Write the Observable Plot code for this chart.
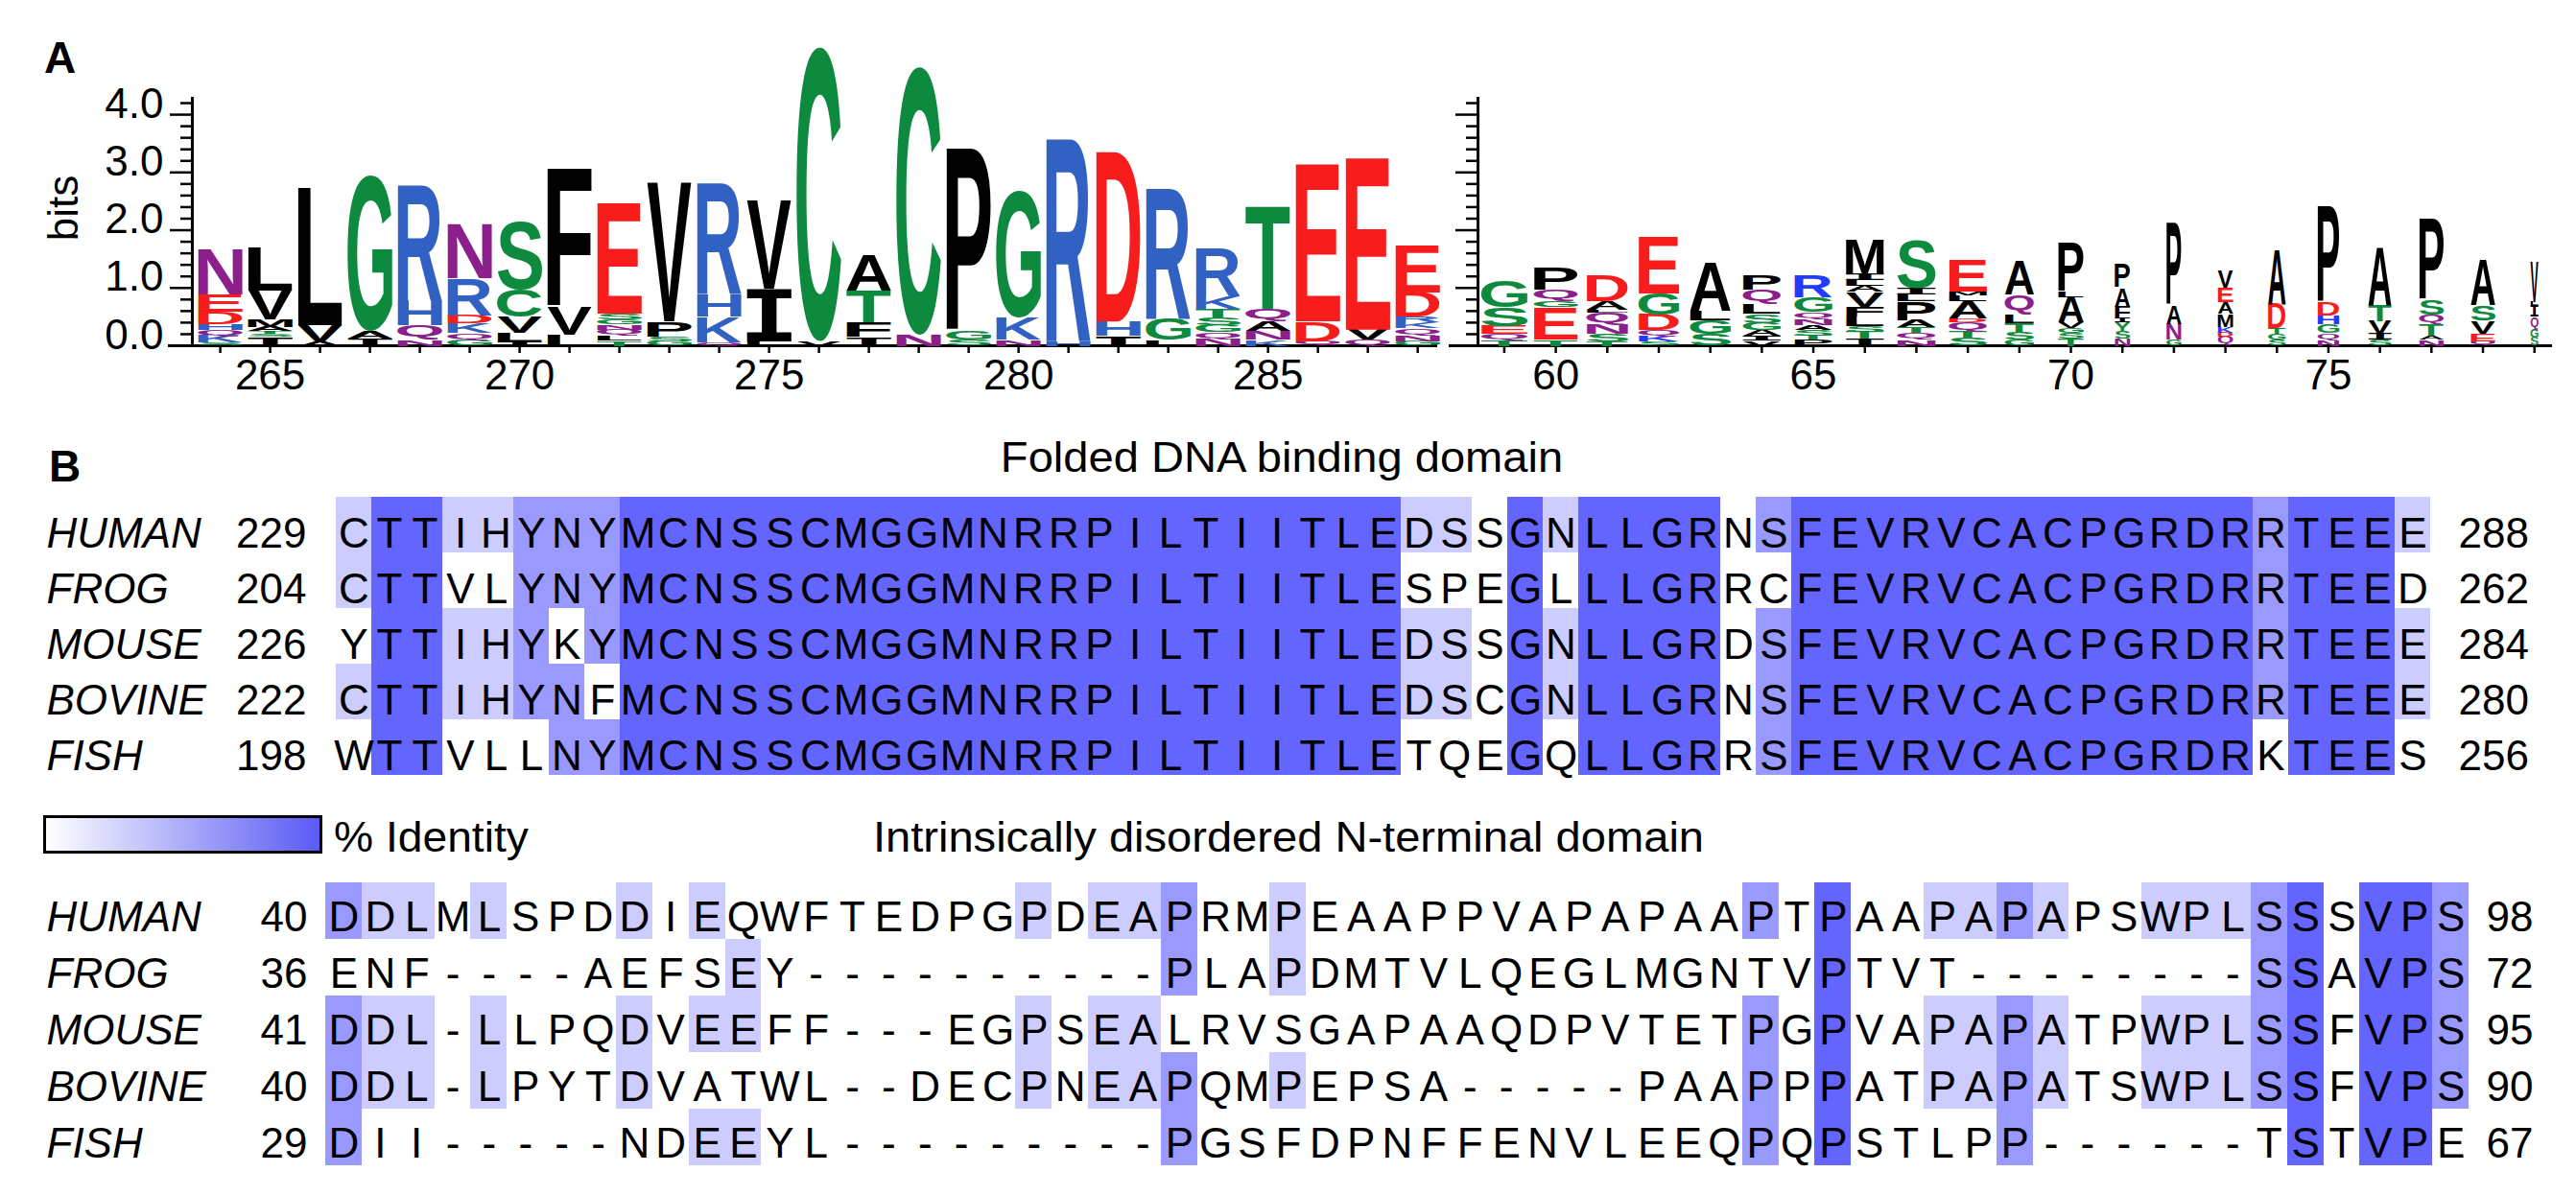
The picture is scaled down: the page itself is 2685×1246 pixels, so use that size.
<!DOCTYPE html>
<html>
<head>
<meta charset="utf-8">
<script src="https://cdn.jsdelivr.net/npm/d3@7"></script>
<script src="https://cdn.jsdelivr.net/npm/@observablehq/plot@0.6"></script>
<style>
html, body { margin: 0; padding: 0; background: #fff; }
#page { position: relative; width: 2685px; height: 1246px; overflow: hidden; background: #fff;
  font-family: "Liberation Sans", Arial, Helvetica, sans-serif; color: #000; }
.abs { position: absolute; white-space: nowrap; }
.holder { position: absolute; }
</style>
</head>
<body>
<div id="page"></div>
<script>
// ---------------- DATA ----------------
// Panel A, left logo (DNA binding domain), stacks bottom -> top: [residue, bits]
const leftPositions = [264,265,266,267,268,269,270,271,272,273,274,275,276,277,278,279,280,281,282,283,284,285,286,287,288];
const leftStacks = [
  [["S",.05],["K",.12],["Q",.1],["H",.1],["D",.22],["E",.3],["N",.8]],
  [["I",.15],["S",.05],["T",.05],["A",.08],["M",.12],["V",.5],["L",.75]],
  [["A",.08],["V",.28],["L",2.39]],
  [["I",.12],["A",.13],["G",2.69]],
  [["N",.11],["Q",.25],["H",.42],["R",2.0]],
  [["G",.1],["Q",.12],["K",.17],["D",.14],["R",.64],["N",.94]],
  [["I",.08],["L",.15],["V",.27],["C",.47],["S",1.17]],
  [["L",.19],["V",.48],["F",2.39]],
  [["T",.09],["L",.09],["Q",.1],["N",.09],["G",.09],["S",.1],["E",1.92]],
  [["G",.08],["S",.08],["P",.26],["V",2.41]],
  [["Q",.06],["K",.44],["H",.39],["R",1.92]],
  [["L",.08],["I",.9],["V",1.52]],
  [["V",.08],["C",5.09]],
  [["I",.15],["F",.25],["T",.55],["A",.63]],
  [["N",.19],["C",4.64]],
  [["S",.1],["G",.15],["P",3.17]],
  [["N",.11],["K",.39],["G",2.19]],
  [["H",.08],["R",3.5]],
  [["I",.17],["H",.25],["D",2.94]],
  [["L",.11],["G",.36],["R",2.25]],
  [["N",.12],["Q",.12],["G",.12],["S",.13],["T",.15],["K",.22],["R",.83]],
  [["K",.1],["N",.15],["A",.17],["Q",.22],["T",1.78]],
  [["Q",.08],["D",.34],["E",2.72]],
  [["Q",.1],["V",.18],["E",2.97]],
  [["G",.08],["N",.1],["Q",.12],["K",.1],["R",.1],["D",.42],["E",.8]]
];
const leftTickLabels = [265,270,275,280,285];

// Panel A, right logo (N-terminal domain)
const rightPositions = [59,60,61,62,63,64,65,66,67,68,69,70,71,72,73,74,75,76,77,78,79];
const rightWidths = [1.0,0.95,0.9,0.88,0.88,0.82,0.82,0.82,0.83,0.82,0.63,0.55,0.33,0.32,0.33,0.38,0.47,0.5,0.53,0.53,0.17];
const rightStacks = [
  [["T",.1],["Q",.1],["E",.14],["S",.33],["G",.46]],
  [["T",.11],["E",.56],["G",.1],["Q",.2],["P",.38]],
  [["T",.08],["S",.12],["N",.16],["Q",.22],["L",.05],["A",.14],["D",.45]],
  [["S",.07],["K",.1],["Q",.1],["D",.27],["G",.36],["E",.98]],
  [["S",.2],["G",.24],["L",.17],["A",.85]],
  [["V",.09],["I",.08],["A",.1],["G",.12],["S",.16],["L",.17],["Q",.25],["P",.25]],
  [["P",.1],["T",.08],["S",.1],["A",.08],["N",.1],["Q",.12],["G",.26],["R",.38]],
  [["I",.12],["T",.12],["S",.1],["L",.16],["F",.18],["V",.26],["A",.1],["L",.1],["I",.1],["M",.61]],
  [["N",.11],["Q",.11],["T",.1],["A",.12],["P",.33],["L",.12],["I",.1],["S",.83]],
  [["S",.12],["T",.12],["Q",.17],["D",.06],["A",.3],["L",.1],["M",.07],["E",.55]],
  [["G",.1],["S",.12],["T",.17],["L",.15],["Q",.34],["A",.58]],
  [["T",.12],["S",.1],["G",.08],["V",.1],["A",.44],["L",.1],["P",.83]],
  [["N",.12],["S",.12],["Y",.16],["I",.08],["F",.2],["A",.33],["P",.4]],
  [["G",.1],["N",.28],["A",.32],["P",1.42]],
  [["Q",.15],["D",.08],["K",.1],["M",.22],["A",.2],["E",.25],["V",.3]],
  [["S",.1],["G",.1],["T",.1],["D",.42],["A",.94]],
  [["N",.1],["Q",.12],["G",.15],["H",.15],["D",.23],["P",1.66]],
  [["S",.1],["I",.1],["V",.23],["T",.27],["A",1.02]],
  [["N",.1],["A",.07],["T",.2],["Q",.16],["S",.27],["P",1.39]],
  [["Q",.08],["E",.13],["V",.22],["S",.27],["A",.79]],
  [["S",.14],["G",.14],["Q",.22],["I",.2],["L",.06],["V",.7]]
];
const rightTickLabels = [60,65,70,75];

const yMajorTicks = [0,1,2,3,4];
const yMinorTicks = [0.2,0.4,0.6,0.8,1.2,1.4,1.6,1.8,2.2,2.4,2.6,2.8,3.2,3.4,3.6,3.8,4.2];

// Panel B alignments
const species = ["HUMAN","FROG","MOUSE","BOVINE","FISH"];
const foldedStart = [229,204,226,222,198];
const foldedEnd = [288,262,284,280,256];
const foldedSeqs = [
  "CTTIHYNYMCNSSCMGGMNRRPILTIITLEDSSGNLLGRNSFEVRVCACPGRDRRTEEE",
  "CTTVLYNYMCNSSCMGGMNRRPILTIITLESPEGLLLGRRCFEVRVCACPGRDRRTEED",
  "YTTIHYKYMCNSSCMGGMNRRPILTIITLEDSSGNLLGRDSFEVRVCACPGRDRRTEEE",
  "CTTIHYNFMCNSSCMGGMNRRPILTIITLEDSCGNLLGRNSFEVRVCACPGRDRRTEEE",
  "WTTVLLNYMCNSSCMGGMNRRPILTIITLETQEGQLLGRRSFEVRVCACPGRDRKTEES"
];
const disorderedStart = [40,36,41,40,29];
const disorderedEnd = [98,72,95,90,67];
const disorderedSeqs = [
  "DDLMLSPDDIEQWFTEDPGPDEAPRMPEAAPPVAPAPAAPTPAAPAPAPSWPLSSSVPS",
  "ENF----AEFSEY----------PLAPDMTVLQEGLMGNTVPTVT--------SSAVPS",
  "DDL-LLPQDVEEFF---EGPSEALRVSGAPAAQDPVTETPGPVAPAPATPWPLSSFVPS",
  "DDL-LPYTDVATWL--DECPNEAPQMPEPSA-----PAAPPPATPAPATSWPLSSFVPS",
  "DII-----NDEEYL---------PGSFDPNFFENVLEEQPQPSTLPP------TSTVPE"
];

// ---------------- STYLE ----------------
const FONT = "'Liberation Sans', Arial, Helvetica, sans-serif";
const aaGroup = {G:"polar",S:"polar",T:"polar",Y:"polar",C:"polar",N:"neutral",Q:"neutral",
  K:"basic",R:"basic",H:"basic",D:"acidic",E:"acidic"};
const leftColors = {polar:"#0e8a3e", neutral:"#8d1f8d", basic:"#3261c4", acidic:"#f81c1c", hydrophobic:"#000000"};
const rightColors = {polar:"#0e8a3e", neutral:"#8d1f8d", basic:"#1f3cff", acidic:"#f81c1c", hydrophobic:"#000000"};
const levelColors = {3:"#6464ff", 2:"#9999ff", 1:"#ccccff"};

const page = document.getElementById("page");

function addText(txt, x, baseline, opt = {}) {
  const size = opt.size || 44;
  const el = document.createElement("div");
  el.className = "abs";
  el.textContent = txt;
  el.style.fontSize = size + "px";
  el.style.lineHeight = size + "px";
  el.style.fontWeight = opt.weight || "normal";
  el.style.fontStyle = opt.style || "normal";
  el.style.top = (baseline - 0.8465 * size) + "px";
  el.style.left = x + "px";
  const sx = opt.stretch || 1;
  if (opt.align === "center") el.style.transform = `translateX(-50%) scaleX(${sx})`;
  else if (sx !== 1) { el.style.transformOrigin = "0 0"; el.style.transform = `scaleX(${sx})`; }
  page.appendChild(el);
  return el;
}

function place(node, left, top) {
  const h = document.createElement("div");
  h.className = "holder";
  h.style.left = left + "px";
  h.style.top = top + "px";
  h.appendChild(node);
  page.appendChild(h);
}

function dropEmptyTexts(chart) {
  chart.querySelectorAll("text").forEach(t => { if (t.textContent === "") t.remove(); });
}

// glyph ink measurement
const ctx = document.createElement("canvas").getContext("2d");
const inkCache = {};
function ink(ch, fam) {
  const key = ch + "|" + fam;
  if (inkCache[key]) return inkCache[key];
  ctx.font = "bold 100px " + fam;
  const m = ctx.measureText(ch);
  const r = {l: -m.actualBoundingBoxLeft, r: m.actualBoundingBoxRight, t: -m.actualBoundingBoxAscent, b: m.actualBoundingBoxDescent};
  inkCache[key] = r;
  return r;
}

// ---------------- LOGO ----------------
function logo(cfg) {
  const letters = [];
  cfg.positions.forEach((p, i) => {
    let y0 = 0;
    for (const [aa, b] of cfg.stacks[i]) {
      letters.push({pos: p, aa, y0, y1: y0 + b, w: cfg.widths ? cfg.widths[i] : 1});
      y0 += b;
    }
  });
  const marks = [
    Plot.axisY({ticks: yMinorTicks, tickSize: 12, tickFormat: () => "", strokeWidth: 2.5, label: null}),
    Plot.axisY({ticks: yMajorTicks, tickSize: 23, tickFormat: () => "", strokeWidth: 2.5, label: null}),
    cfg.yLabels ? Plot.axisY({ticks: yMajorTicks, tickSize: 0, tickPadding: 30, tickFormat: d3.format(".1f"), dy: -11, fontSize: 44, label: null}) : null,
    Plot.axisX({ticks: cfg.positions, tickSize: 8, tickFormat: () => "", strokeWidth: 2.5, label: null}),
    Plot.axisX({ticks: cfg.tickLabels, tickSize: 0, tickPadding: 14, fontSize: 44, label: null}),
    Plot.ruleY([0], {x1: cfg.xDomain[0], x2: cfg.xDomain[1], strokeWidth: 3}),
    Plot.ruleX([cfg.yAxisAt], {y1: 0, y2: 4.3, strokeWidth: 3}),
    Plot.text(letters, {x: "pos", y: d => (d.y0 + d.y1) / 2, text: "aa",
      fill: d => cfg.colors[aaGroup[d.aa] || "hydrophobic"], fontSize: 100, fontWeight: "bold", fontFamily: FONT})
  ].filter(Boolean);
  const chart = Plot.plot({
    width: cfg.width, height: 430,
    marginLeft: cfg.marginLeft, marginRight: 10, marginTop: 20, marginBottom: 70,
    style: {background: "transparent", fontFamily: FONT, fontSize: "44px", color: "#000", overflow: "visible"},
    x: {domain: cfg.xDomain, range: cfg.xRange, label: null},
    y: {domain: [0, 4.3], range: [360, 101], label: null},
    marks
  });
  const xs = chart.scale("x"), ys = chart.scale("y");
  const nodes = chart.querySelectorAll('g[aria-label="text"] > text');
  nodes.forEach((node, i) => {
    const d = letters[i];
    if (!d) return;
    const fam = d.aa === "I" ? "'DejaVu Sans Mono'" : "'Liberation Sans'";
    const m = ink(d.aa, fam);
    const cx = xs.apply(d.pos);
    const step = Math.abs(xs.apply(d.pos + 1) - cx);
    const half = step * 0.45 * d.w;
    const X0 = cx - half, X1 = cx + half;
    const Yt = ys.apply(d.y1), Yb = ys.apply(d.y0);
    if (Yb - Yt < 0.4 || m.r - m.l <= 0) { node.remove(); return; }
    const sx = (X1 - X0) / (m.r - m.l), sy = (Yb - Yt) / (m.b - m.t);
    node.setAttribute("x", 0);
    node.setAttribute("y", 0);
    node.removeAttribute("dy");
    node.setAttribute("text-anchor", "start");
    node.style.fontFamily = fam;
    node.setAttribute("transform", `translate(${X0 - m.l * sx},${Yt - m.t * sy}) scale(${sx},${sy})`);
  });
  dropEmptyTexts(chart);
  return chart;
}

// ---------------- ALIGNMENT ----------------
function identityCells(seqs) {
  const n = seqs.length, L = seqs[0].length, cells = [];
  for (let c = 0; c < L; c++) {
    const col = seqs.map(s => s[c]);
    const counts = d3.rollup(col.filter(ch => ch !== "-"), v => v.length, d => d);
    let best = null, bestN = 0;
    for (const [ch, k] of counts) if (k > bestN) { best = ch; bestN = k; }
    const pct = 100 * bestN / n;
    const level = pct > 80 ? 3 : pct > 60 ? 2 : pct > 40 ? 1 : 0;
    col.forEach((ch, r) => cells.push({col: c, sp: species[r], ch, level: ch === best ? level : 0}));
  }
  return cells;
}

function alignment(cfg) {
  const cells = identityCells(cfg.seqs);
  const rows = species.map((sp, i) => ({sp, start: String(cfg.starts[i]), end: String(cfg.ends[i])}));
  const txt = {fontSize: 44, fontFamily: FONT, dy: cfg.dy, fill: "#000"};
  return Plot.plot({
    width: 2685, height: cfg.height, margin: 0,
    style: {background: "transparent", fontFamily: FONT, fontSize: "44px", color: "#000", overflow: "visible"},
    x: {type: "band", domain: d3.range(cfg.seqs[0].length), range: cfg.xRange, padding: 0, axis: null},
    y: {type: "band", domain: species, range: cfg.yRange, padding: 0, axis: null},
    marks: [
      Plot.cell(cells.filter(d => d.level > 0), {x: "col", y: "sp", fill: d => levelColors[d.level], shapeRendering: "crispEdges"}),
      Plot.text(cells, {x: "col", y: "sp", text: "ch", ...txt}),
      Plot.text(rows, {y: "sp", frameAnchor: "left", dx: cfg.nameX, textAnchor: "start", text: "sp", fontStyle: "italic", ...txt}),
      Plot.text(rows, {y: "sp", frameAnchor: "left", dx: cfg.startX, textAnchor: "end", text: "start", ...txt}),
      Plot.text(rows, {y: "sp", frameAnchor: "left", dx: cfg.endX, textAnchor: "start", text: "end", ...txt})
    ]
  });
}

// ---------------- BUILD ----------------
place(logo({
  positions: leftPositions, stacks: leftStacks, tickLabels: leftTickLabels, colors: leftColors,
  width: 1510, marginLeft: 200, xDomain: [262.96, 288.4], xRange: [175, 1498], yAxisAt: 263.44, yLabels: true
}), 0, 0);

place(logo({
  positions: rightPositions, stacks: rightStacks, widths: rightWidths, tickLabels: rightTickLabels, colors: rightColors,
  width: 1185, marginLeft: 40, xDomain: [57.93, 79.35], xRange: [10, 1160], yAxisAt: 58.49, yLabels: false
}), 1500, 0);

place(alignment({seqs: foldedSeqs, starts: foldedStart, ends: foldedEnd, height: 390,
  xRange: [335, 2547.5], yRange: [77, 369], nameX: 48, startX: 319, endX: 2562, dy: 9}), 0, 440);

place(alignment({seqs: disorderedSeqs, starts: disorderedStart, ends: disorderedEnd, height: 346,
  xRange: [339, 2573], yRange: [20, 315], nameX: 48, startX: 320, endX: 2591, dy: 7}), 0, 900);

// panel letters, titles, legend
addText("A", 46, 76, {size: 46, weight: "bold"});
addText("B", 51, 502, {size: 46, weight: "bold"});
addText("Folded DNA binding domain", 1336, 492, {align: "center", stretch: 1.07});
addText("Intrinsically disordered N-terminal domain", 1343, 888, {align: "center", stretch: 1.07});
addText("% Identity", 348, 888, {stretch: 1.05});

const bits = document.createElement("div");
bits.className = "abs";
bits.textContent = "bits";
Object.assign(bits.style, {fontSize: "44px", lineHeight: "44px", left: "66px", top: "217px",
  transform: "translate(-50%,-50%) rotate(-90deg)"});
page.appendChild(bits);

const legend = document.createElement("div");
legend.className = "abs";
Object.assign(legend.style, {left: "45px", top: "850px", width: "285px", height: "34px",
  border: "3px solid #000", background: "linear-gradient(to right, #ffffff, #5a5af5)"});
page.appendChild(legend);
</script>
</body>
</html>
